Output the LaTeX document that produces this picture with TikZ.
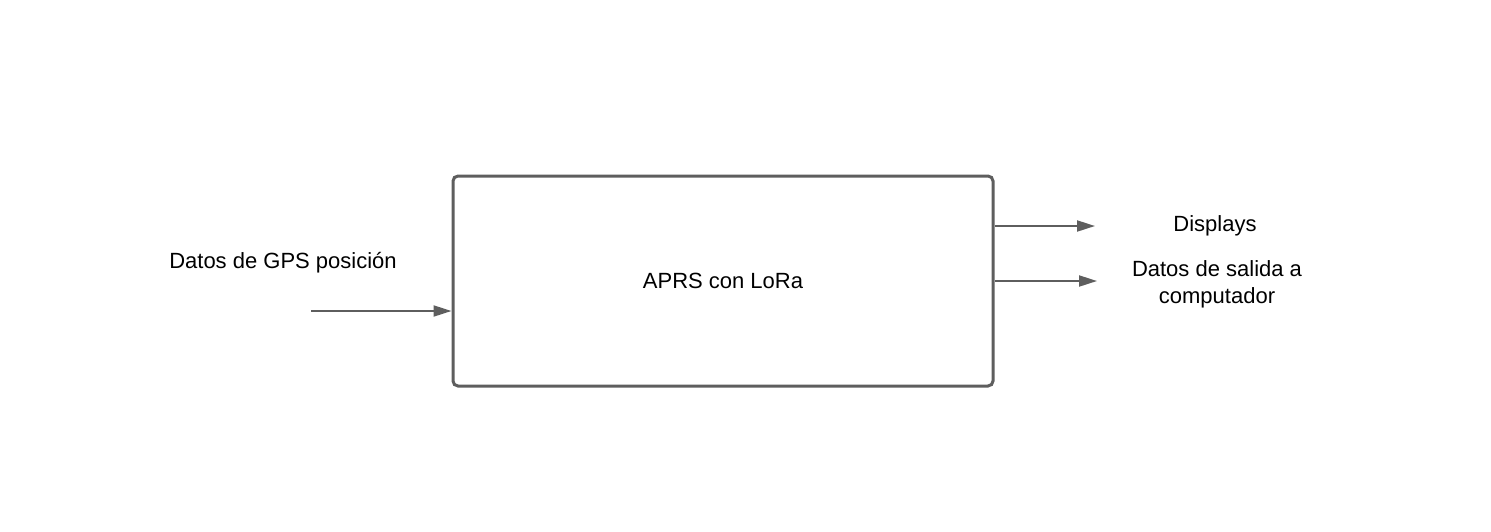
\documentclass[tikz,border=0pt]{standalone}
\usepackage{fontspec}
\setmainfont{Liberation Sans}
\usetikzlibrary{arrows.meta}
\definecolor{linegray}{HTML}{5E5E5E}
\tikzset{
  lbl/.style={font=\fontsize{22}{27}\selectfont, text=black, align=center, inner sep=0pt},
  flow/.style={draw=linegray, line width=2pt, -{Triangle[length=18pt,width=11pt]}},
  blockbox/.style={draw=linegray, line width=3pt, rounded corners=5pt, minimum width=540pt, minimum height=210pt, inner sep=0pt}
}
\begin{document}
\begin{tikzpicture}[x=1pt,y=-1pt]
\useasboundingbox (0,0) rectangle (1491,531);
\node[blockbox] (box) at (723,281) {};
\node[lbl] (main) at (723,280.5) {APRS con LoRa};
\node[lbl] (gps) at (283,262.5) {Datos de GPS posición};
\node[lbl] (disp) at (1215,225.5) {Displays};
\node[lbl] (out) at (1217,284) {Datos de salida a\\computador};
\coordinate (inS) at (311,311);
\coordinate (o1s) at (995,226);
\coordinate (o1e) at (1095,226);
\coordinate (o2s) at (995,281);
\coordinate (o2e) at (1097,281);
\draw[flow] (inS) -- (box.west |- inS);
\draw[flow] (o1s) -- (o1e);
\draw[flow] (o2s) -- (o2e);
\end{tikzpicture}
\end{document}
